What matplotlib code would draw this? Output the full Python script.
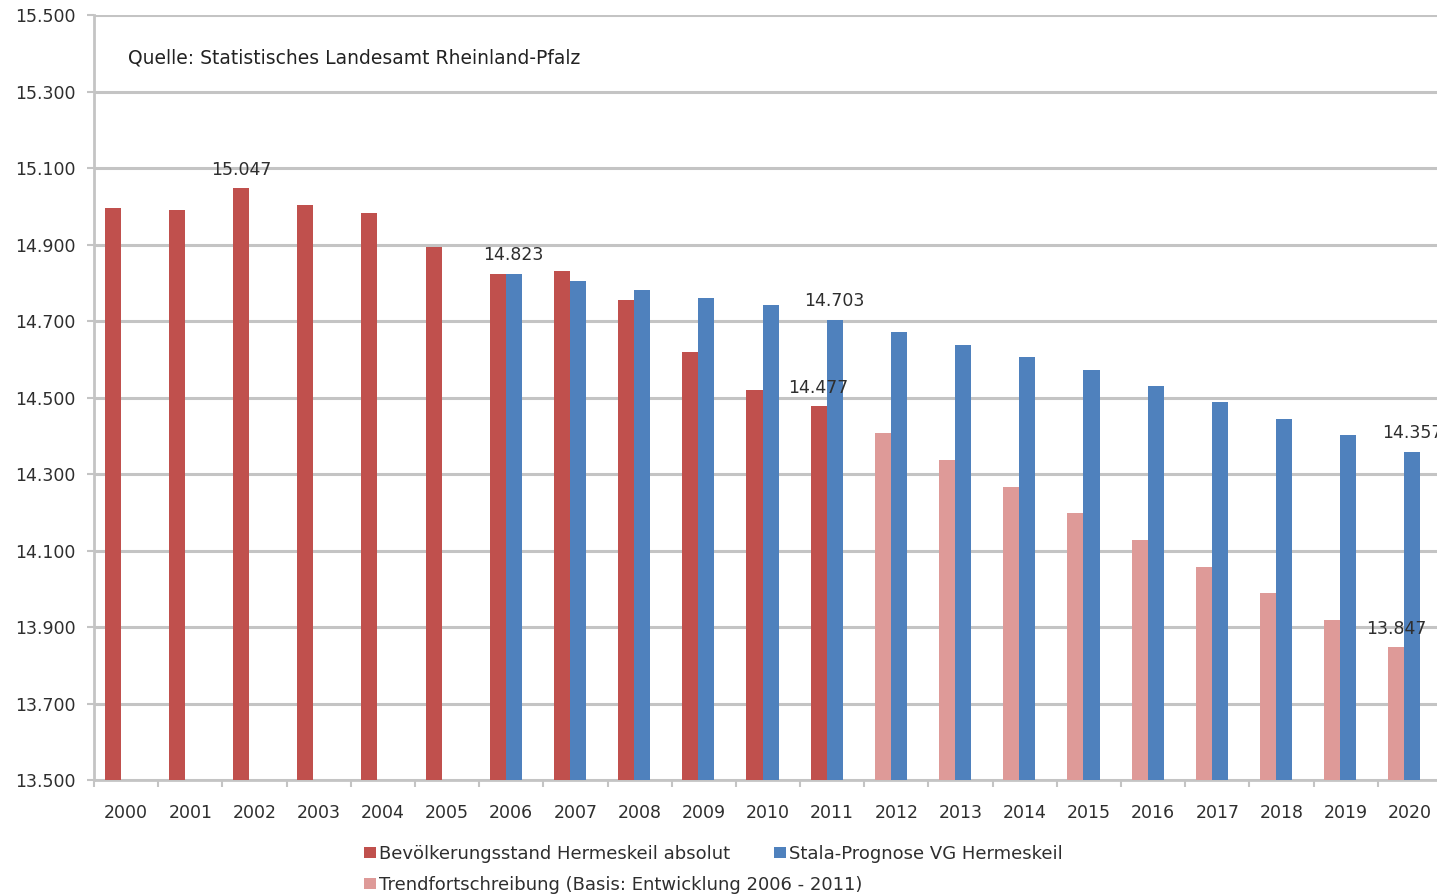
import numpy as np
import matplotlib
matplotlib.use("Agg")
import matplotlib.pyplot as plt
from matplotlib.ticker import FuncFormatter, FixedLocator

plt.rcParams['font.family'] = ['DejaVu Sans']

# data
years = list(range(2000, 2021))
absolut_years = list(range(2000, 2012))
absolut = [14995, 14990, 15047, 15003, 14982, 14893, 14823, 14832, 14755, 14619, 14520, 14477]
prognose_years = list(range(2006, 2021))
prognose = [14823, 14805, 14781, 14760, 14742, 14703, 14671, 14637, 14606, 14572,
            14530, 14488, 14444, 14402, 14357]
trend_years = list(range(2012, 2021))
trend = [14407, 14337, 14266, 14198, 14127, 14057, 13989, 13918, 13847]
y_ticks = [13500, 13700, 13900, 14100, 14300, 14500, 14700, 14900, 15100, 15300, 15500]

label_absolut = "Bevölkerungsstand Hermeskeil absolut"
label_prognose = "Stala-Prognose VG Hermeskeil"
label_trend = "Trendfortschreibung (Basis: Entwicklung 2006 - 2011)"

red = '#C0504D'
blue = '#4F81BD'
pink = '#DE9A98'
grid_col = '#C4C4C4'
txt_col = '#2E2E2E'

fig = plt.figure(figsize=(14.37, 8.96), dpi=100)
ax = fig.add_axes([94 / 1437, 116 / 896, 1348 / 1437, 765 / 896])

w = 0.25
off_l = -0.21
off_r = 0.04

x_abs = np.array([years.index(y) for y in absolut_years])
x_pro = np.array([years.index(y) for y in prognose_years])
x_tr = np.array([years.index(y) for y in trend_years])

b_abs = ax.bar(x_abs + off_l, absolut, width=w, color=red, label=label_absolut, zorder=3)
b_tr = ax.bar(x_tr + off_l, trend, width=w, color=pink, label=label_trend, zorder=3)
b_pro = ax.bar(x_pro + off_r, prognose, width=w, color=blue, label=label_prognose, zorder=3)

ax.set_ylim(13500, 15500)
ax.set_xlim(-0.5, len(years) - 0.5)
ax.yaxis.set_major_locator(FixedLocator(y_ticks))
ax.yaxis.set_major_formatter(FuncFormatter(lambda v, p: f"{v:,.0f}".replace(",", ".")))
ax.set_xticks(range(len(years)))
ax.set_xticklabels([str(y) for y in years])
ax.set_xticks(np.arange(-0.5, len(years), 1), minor=True)
ax.tick_params(axis='x', which='major', length=0, pad=17, labelsize=12.5, colors=txt_col)
ax.tick_params(axis='x', which='minor', length=5, color=grid_col, width=1.5)
ax.tick_params(axis='y', length=5, color=grid_col, width=1.5, labelsize=12.5,
               labelcolor=txt_col, pad=8)

ax.grid(axis='y', color=grid_col, linewidth=2.2, zorder=0)
ax.set_axisbelow(True)
for s in ['top', 'right']:
    ax.spines[s].set_visible(False)
for s in ['left', 'bottom']:
    ax.spines[s].set_color(grid_col)
    ax.spines[s].set_linewidth(2)

# data labels
def put_label(x, v):
    ax.annotate(f"{v:,.0f}".replace(",", "."), (x, v), xytext=(0, 7),
                textcoords='offset points', ha='center', va='bottom',
                fontsize=12.5, color=txt_col, zorder=5)

put_label(years.index(2002) + off_l, absolut[absolut_years.index(2002)])
put_label(years.index(2006) + off_r, prognose[prognose_years.index(2006)])
put_label(years.index(2011) + off_r, prognose[prognose_years.index(2011)])
put_label(years.index(2011) + off_l, absolut[absolut_years.index(2011)])
put_label(years.index(2020) + off_r, prognose[prognose_years.index(2020)])
put_label(years.index(2020) + off_l, trend[trend_years.index(2020)])

fig.text(128 / 1437, 1 - 58 / 896, "Quelle: Statistisches Landesamt Rheinland-Pfalz",
         fontsize=13.5, color='#222222', va='center', ha='left')

# legend laid out in rows like the spreadsheet legend
leg_kw = dict(loc='center left', frameon=False, fontsize=13, handlelength=0.65,
              handleheight=0.62, handletextpad=0.2, borderpad=0, borderaxespad=0,
              labelcolor=txt_col)
fig.legend([b_abs, b_pro], [label_absolut, label_prognose], ncol=2,
           bbox_to_anchor=(364 / 1437, 1 - 854 / 896), columnspacing=2.4, **leg_kw)
fig.legend([b_tr], [label_trend], bbox_to_anchor=(364 / 1437, 1 - 885 / 896), **leg_kw)

plt.savefig("out.png", dpi=100)
